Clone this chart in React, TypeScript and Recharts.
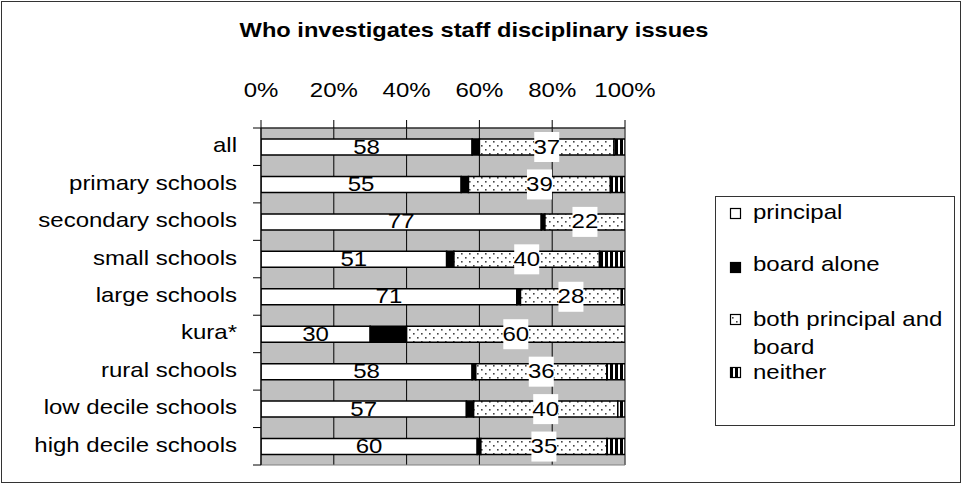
import React from 'react';
import { BarChart, Bar, XAxis, YAxis, CartesianGrid, LabelList, ReferenceArea, Legend } from 'recharts';

const categories = ['all', 'primary schools', 'secondary schools', 'small schools', 'large schools', 'kura*', 'rural schools', 'low decile schools', 'high decile schools'];
const principal = [58, 55, 77, 51, 71, 30, 58, 57, 60];
const boardAlone = [2, 2, 1, 2, 1, 10, 1, 2, 1];
const bothPrincipalAndBoard = [37, 39, 22, 40, 28, 60, 36, 40, 35];
const neither = [3, 4, 0, 7, 1, 0, 5, 2, 5];
const xTicks = [0, 0.2, 0.4, 0.6, 0.8, 1];
const seriesNames = ['principal', 'board alone', 'both principal and board', 'neither'];
const seriesKeys = ['principal', 'board', 'both', 'neither'];
const seriesFills = ['#ffffff', '#000000', 'url(#dotPat)', 'url(#stripePat)'];
const title = 'Who investigates staff disciplinary issues';

const data = categories.map((name, i) => ({
  name,
  principal: principal[i],
  board: boardAlone[i],
  both: bothPrincipalAndBoard[i],
  neither: neither[i],
}));

const W = 962;
const H = 484;
const MARGIN = { top: 98, right: 337, bottom: 19, left: 21 };
const X_AXIS_H = 30;
const Y_AXIS_W = 240;
const AXIS_X = MARGIN.left + Y_AXIS_W;
const PLOT_TOP = MARGIN.top + X_AXIS_H;
const PLOT_H = H - PLOT_TOP - MARGIN.bottom;
const BAND = PLOT_H / categories.length;

const FONT = '"Liberation Sans", Arial, Helvetica, sans-serif';
const SX = 1.2;

const Txt = ({ x, y, anchor = 'middle', size = 20, weight = 'normal', children }: any) => (
  <text
    transform={`translate(${x},${y}) scale(${SX},1)`}
    x={0}
    y={0}
    textAnchor={anchor}
    fontFamily={FONT}
    fontSize={size}
    fontWeight={weight}
    fill="#000"
  >
    {children}
  </text>
);

const XTick = (props: any) => {
  const { x, y, payload } = props;
  return <Txt x={x} y={y - 21}>{Math.round(payload.value * 100) + '%'}</Txt>;
};

const YTick = (props: any) => {
  const { x, y, payload, index } = props;
  const half = BAND / 2;
  const last = index === categories.length - 1;
  return (
    <g>
      <line x1={AXIS_X - 8} x2={AXIS_X} y1={y - half} y2={y - half} stroke="#000" />
      {last && <line x1={AXIS_X - 8} x2={AXIS_X} y1={y + half} y2={y + half} stroke="#000" />}
      <Txt x={x} y={y + 5.5} anchor="end">{payload.value}</Txt>
    </g>
  );
};

const getBox = (props: any) => {
  const vb = props.viewBox || {};
  const x = props.x ?? vb.x;
  const y = props.y ?? vb.y;
  const width = props.width ?? vb.width;
  const height = props.height ?? vb.height;
  return { x: Number(x), y: Number(y), width: Number(width), height: Number(height) };
};

const PlainLabel = (props: any) => {
  const { x, y, width, height } = getBox(props);
  if (!props.value) return null;
  const cx = x + width / 2;
  const cy = y + height / 2;
  return <Txt x={cx} y={cy + 6.5}>{props.value}</Txt>;
};

const BoxLabel = (props: any) => {
  const { x, y, width, height } = getBox(props);
  if (!props.value) return null;
  const cx = x + width / 2;
  const cy = y + height / 2;
  return (
    <g>
      <rect x={cx - 12.5} y={cy - 15} width={25} height={30} fill="#fff" />
      <Txt x={cx} y={cy + 6.5}>{props.value}</Txt>
    </g>
  );
};

const wrapWords = (s: string, max: number) => {
  const words = s.split(' ');
  const lines: string[] = [];
  let cur = '';
  words.forEach((w) => {
    const next = cur ? cur + ' ' + w : w;
    if (next.length > max && cur) {
      lines.push(cur);
      cur = w;
    } else cur = next;
  });
  if (cur) lines.push(cur);
  return lines;
};

const LEG_MARK_Y = [12, 66, 118, 171];
const LEG_TEXT_Y = [23, 75, 130, 183];

const renderLegend = () => (
  <svg width={240} height={230} style={{ display: 'block' }}>
    <rect x={0.5} y={0.5} width={239} height={229} fill="#fff" stroke="#333" />
    {seriesNames.map((n, i) => (
      <g key={n}>
        <rect x={15.5} y={LEG_MARK_Y[i] + 0.5} width={10} height={10} fill={seriesFills[i]} stroke="#000" strokeWidth={1.2} />
        {wrapWords(n, 18).map((line, j) => (
          <Txt key={j} x={38} y={LEG_TEXT_Y[i] + j * 28} anchor="start">{line}</Txt>
        ))}
      </g>
    ))}
  </svg>
);

export default function App() {
  return (
    <div style={{ position: 'absolute', left: 0, top: 0, width: W, height: H, background: '#fff' }}>
      <svg width={0} height={0} style={{ position: 'absolute' }}>
        <defs>
          <pattern id="dotPat" patternUnits="userSpaceOnUse" width={8} height={8}>
            <rect x={0} y={0} width={8} height={8} fill="#fff" />
            <rect x={1} y={1} width={1.6} height={1.6} fill="#444" />
            <rect x={5} y={5} width={1.6} height={1.6} fill="#444" />
          </pattern>
          <pattern id="stripePat" patternUnits="userSpaceOnUse" width={5} height={5}>
            <rect x={0} y={0} width={5} height={5} fill="#fff" />
            <rect x={0} y={0} width={3} height={5} fill="#000" />
          </pattern>
        </defs>
      </svg>
      <div style={{ position: 'absolute', left: 1, top: 1, width: 958, height: 480, border: '1px solid #333' }} />
      <svg width={W} height={60} style={{ position: 'absolute', left: 0, top: 0 }}>
        <Txt x={474} y={37} size={19.7} weight="bold">{title}</Txt>
      </svg>
      <div style={{ position: 'absolute', left: 0, top: 0 }}>
        <BarChart width={W} height={H} data={data} layout="vertical" stackOffset="expand" margin={MARGIN}>
          <CartesianGrid horizontal={false} vertical stroke="#000" fill="#c0c0c0" fillOpacity={1} />
          <ReferenceArea x1={0} x2={1} fill="none" stroke="#808080" ifOverflow="visible" />
          <XAxis
            type="number"
            orientation="top"
            domain={[0, 1]}
            ticks={xTicks}
            interval={0}
            height={X_AXIS_H}
            tickSize={8}
            tickMargin={2}
            tick={<XTick />}
            tickLine={{ stroke: '#000' }}
            axisLine={{ stroke: '#000' }}
            allowDataOverflow
          />
          <YAxis
            type="category"
            dataKey="name"
            width={Y_AXIS_W}
            interval={0}
            tickSize={8}
            tickMargin={16}
            tick={<YTick />}
            tickLine={false}
            axisLine={{ stroke: '#000' }}
          />
          <Legend
            layout="horizontal"
            verticalAlign="middle"
            align="center"
            content={renderLegend}
            wrapperStyle={{ left: 715, top: 196, width: 240, height: 230 }}
          />
          {seriesKeys.map((k, i) => (
            <Bar
              key={k}
              dataKey={k}
              name={seriesNames[i]}
              stackId="s"
              fill={seriesFills[i]}
              stroke="#000"
              strokeWidth={1.5}
              barSize={16}
              isAnimationActive={false}
            >
              {k === 'principal' && <LabelList dataKey="principal" content={<PlainLabel />} />}
              {k === 'both' && <LabelList dataKey="both" content={<BoxLabel />} />}
            </Bar>
          ))}
        </BarChart>
      </div>
    </div>
  );
}
